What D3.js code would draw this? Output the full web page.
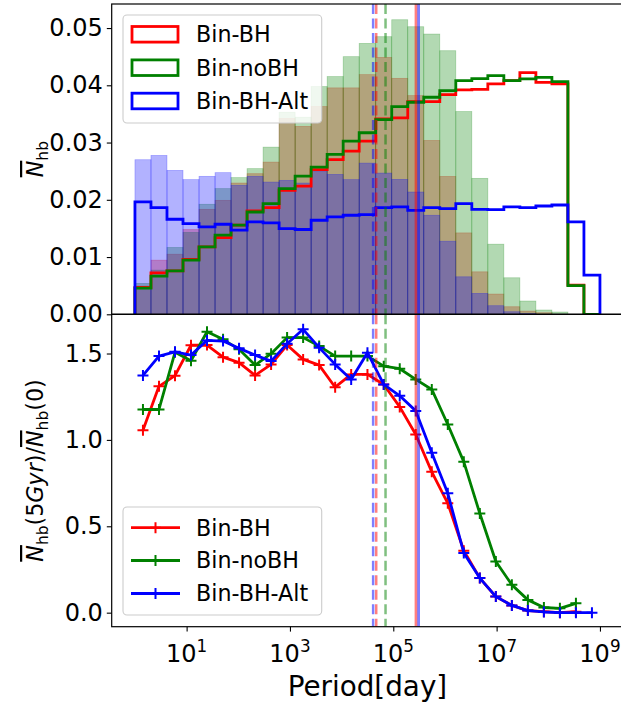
<!DOCTYPE html>
<html>
<head>
<meta charset="utf-8">
<script src="https://cdn.jsdelivr.net/npm/d3@7"></script>
<style>
  body { margin: 0; background: #fff; }
  text { font-family: "DejaVu Sans", sans-serif; fill: #000; }
</style>
</head>
<body>
<div id="chart"></div>
<script>
// log10(period/day) bin edges of the histograms
const logEdges = [0, 0.31, 0.62, 0.93, 1.24, 1.55, 1.86, 2.17, 2.48, 2.79, 3.10, 3.41, 3.72, 4.03, 4.34,
                  4.66, 4.97, 5.28, 5.59, 5.90, 6.21, 6.52, 6.83, 7.14, 7.45, 7.76, 8.07, 8.38, 8.69, 9.0];

const models = ["Bin-BH", "Bin-noBH", "Bin-BH-Alt"];
const colors = ["#ff0000", "#008000", "#0000ff"];

// step histograms (top panel, lines)
const stepBH   = [0.0047, 0.00725, 0.0076, 0.00958, 0.01178, 0.01341, 0.01556, 0.01805, 0.01864, 0.02166,
                  0.0224, 0.02526, 0.027, 0.0285, 0.03024, 0.03411, 0.03432, 0.03716, 0.03716, 0.03838,
                  0.0392, 0.0393, 0.04024, 0.04082, 0.0422, 0.04052, 0.04024, 0.0051, 0];
const stepNoBH = [0.00458, 0.00667, 0.0076, 0.00946, 0.01178, 0.01382, 0.01556, 0.01787, 0.01934, 0.02195,
                  0.02415, 0.02571, 0.02793, 0.03024, 0.03171, 0.03402, 0.03629, 0.03704, 0.03791, 0.03908,
                  0.04082, 0.04117, 0.04169, 0.04082, 0.04111, 0.04139, 0.04064, 0.0050, 0];
const stepAlt  = [0.01962, 0.01864, 0.0166, 0.01585, 0.01526, 0.01573, 0.01469, 0.01613, 0.01596, 0.01498,
                  0.01481, 0.01643, 0.017, 0.0173, 0.01742, 0.01864, 0.01875, 0.01817, 0.01864, 0.01847,
                  0.01934, 0.01834, 0.01829, 0.01875, 0.01864, 0.01892, 0.01909, 0.01613, 0.00685];

// filled histograms (top panel, translucent bars)
const fillBH   = [0.00493, 0.00946, 0.0105, 0.01481, 0.01834, 0.01991, 0.02293, 0.02456, 0.02659, 0.0342,
                  0.03283, 0.03629, 0.03955, 0.03955, 0.04186, 0.04488, 0.04122, 0.0382, 0.03037, 0.02409,
                  0.01422, 0.00742, 0.00354, 0.00132, 0.00057, 0.00028, 0, 0, 0];
const fillNoBH = [0.0054, 0.00772, 0.01167, 0.01429, 0.01922, 0.02195, 0.02387, 0.02544, 0.0292, 0.0353,
                  0.03443, 0.03977, 0.04152, 0.045, 0.04732, 0.04849, 0.05145, 0.05023, 0.04895, 0.04604,
                  0.03542, 0.02375, 0.01225, 0.00638, 0.00232, 0.00075, 0.0004, 0, 0];
const fillAlt  = [0.027, 0.02775, 0.02514, 0.02352, 0.0241, 0.02474, 0.02253, 0.0241, 0.0231, 0.0234,
                  0.02293, 0.02502, 0.02444, 0.02352, 0.02641, 0.02467, 0.02357, 0.02136, 0.0173, 0.01277,
                  0.00655, 0.00366, 0.0015, 0.00045, 0.00017, 0, 0, 0, 0];

// ratio N(5Gyr)/N(0) per bin (bottom panel)
const ratioBH   = [1.056, 1.31, 1.372, 1.548, 1.549, 1.479, 1.447, 1.373, 1.437, 1.549, 1.466, 1.433, 1.305, 1.379,
                   1.379, 1.321, 1.191, 1.031, 0.815, 0.633, 0.358, 0.2, 0.093, 0.042, 0.012, 0.006, 0.0, 0.006, null];
const ratioNoBH = [1.176, 1.176, 1.507, 1.458, 1.626, 1.582, 1.524, 1.433, 1.499, 1.592, 1.592, 1.543, 1.485, 1.485,
                   1.485, 1.427, 1.412, 1.35, 1.292, 1.089, 0.873, 0.574, 0.296, 0.161, 0.074, 0.03, 0.025, 0.054, null];
const ratioAlt  = [1.373, 1.485, 1.51, 1.491, 1.576, 1.572, 1.53, 1.491, 1.456, 1.557, 1.64, 1.534, 1.437, 1.35,
                   1.505, 1.321, 1.255, 1.168, 0.925, 0.691, 0.346, 0.2, 0.093, 0.042, 0.012, 0.004, 0.0, 0.0, 0.0];

// vertical reference lines, log10(period)
const dashedLogP = [4.67, 4.85, 4.61];   // BH, noBH, Alt
const solidLogP  = [5.44, 5.49];         // BH, Alt

const xTickExp = [1, 3, 5, 7, 9];
const yTopTicks = [0.00, 0.01, 0.02, 0.03, 0.04, 0.05];
const yBotTicks = [0.0, 0.5, 1.0, 1.5];

const width = 621, height = 706;
const left = 111.7, right = 623.2;
const topY0 = 4, midY = 314.3, botY1 = 626.7;
const fs = 22.2, tfs = 24;

const svg = d3.select("#chart").append("svg")
  .attr("width", width).attr("height", height);

const x = d3.scaleLog().domain([Math.pow(10, -0.45), Math.pow(10, 9.45)]).range([left, right]);
const yTop = d3.scaleLinear().domain([0, 0.0542]).range([midY, topY0]);
const yBot = d3.scaleLinear().domain([-0.0812, 1.727]).range([botY1, midY]);
const xe = e => x(Math.pow(10, e));

const defs = svg.append("defs");
defs.append("clipPath").attr("id", "clipTop").append("rect")
  .attr("x", left).attr("y", topY0).attr("width", right - left).attr("height", midY - topY0);
defs.append("clipPath").attr("id", "clipBot").append("rect")
  .attr("x", left).attr("y", midY).attr("width", right - left).attr("height", botY1 - midY);

// ---------- top panel ----------
const gTop = svg.append("g").attr("clip-path", "url(#clipTop)");
const fills = [fillBH, fillNoBH, fillAlt];
fills.forEach((vals, k) => {
  gTop.append("g").selectAll("rect")
    .data(vals.map((v, i) => ({v, i})).filter(d => d.v > 0))
    .join("rect")
      .attr("x", d => xe(logEdges[d.i]))
      .attr("width", d => xe(logEdges[d.i + 1]) - xe(logEdges[d.i]))
      .attr("y", d => yTop(d.v))
      .attr("height", d => yTop(0) - yTop(d.v))
      .attr("fill", colors[k]).attr("fill-opacity", 0.3)
      .attr("stroke", colors[k]).attr("stroke-opacity", 0.3).attr("stroke-width", 0.7);
});

const steps = [stepBH, stepNoBH, stepAlt];
const stepLine = d3.line().x(d => xe(d[0])).y(d => yTop(d[1]));
steps.forEach((vals, k) => {
  const pts = [[logEdges[0], 0]];
  vals.forEach((v, i) => { pts.push([logEdges[i], v]); pts.push([logEdges[i + 1], v]); });
  pts.push([logEdges[logEdges.length - 1], 0]);
  gTop.append("path").attr("d", stepLine(pts))
    .attr("fill", "none").attr("stroke", colors[k]).attr("stroke-width", 2.8)
    .attr("stroke-linejoin", "miter");
});

// ---------- bottom panel ----------
const gBot = svg.append("g").attr("clip-path", "url(#clipBot)");
const ratios = [ratioBH, ratioNoBH, ratioAlt];
const centers = logEdges.slice(0, -1).map((e, i) => (e + logEdges[i + 1]) / 2);
const rline = d3.line().defined(d => d[1] !== null).x(d => xe(d[0])).y(d => yBot(d[1]));
ratios.forEach((vals, k) => {
  const pts = vals.map((v, i) => [centers[i], v]);
  gBot.append("path").attr("d", rline(pts))
    .attr("fill", "none").attr("stroke", colors[k]).attr("stroke-width", 2.8)
    .attr("stroke-linejoin", "round");
  gBot.append("g").selectAll("path")
    .data(pts.filter(d => d[1] !== null))
    .join("path")
      .attr("d", d => { const cx = xe(d[0]), cy = yBot(d[1]), r = 5.5;
        return `M${cx - r},${cy}H${cx + r}M${cx},${cy - r}V${cy + r}`; })
      .attr("stroke", colors[k]).attr("stroke-width", 2).attr("fill", "none");
});

// ---------- vertical lines ----------
[[gTop, topY0, midY], [gBot, midY, botY1]].forEach(([g, y0, y1]) => {
  dashedLogP.forEach((e, k) => {
    g.append("line").attr("x1", xe(e)).attr("x2", xe(e)).attr("y1", y0).attr("y2", y1)
      .attr("stroke", colors[k]).attr("stroke-opacity", 0.5).attr("stroke-width", 2.5)
      .attr("stroke-dasharray", "10,4.5");
  });
  solidLogP.forEach((e, k) => {
    g.append("line").attr("x1", xe(e)).attr("x2", xe(e)).attr("y1", y0).attr("y2", y1)
      .attr("stroke", k === 0 ? colors[0] : colors[2]).attr("stroke-opacity", 0.5).attr("stroke-width", 2.8);
  });
});

// ---------- axes ----------
const yAxisTop = d3.axisLeft(yTop).tickValues(yTopTicks).tickFormat(d3.format(".2f")).tickSize(4.9).tickPadding(4);
const yAxisBot = d3.axisLeft(yBot).tickValues(yBotTicks).tickFormat(d3.format(".1f")).tickSize(4.9).tickPadding(4);
const xAxisBot = d3.axisBottom(x).tickValues(xTickExp.map(e => Math.pow(10, e))).tickFormat("").tickSize(4.9);

function styleAxis(g) {
  g.select(".domain").remove();
  g.selectAll(".tick line").attr("stroke", "#000").attr("stroke-width", 1.1);
  g.selectAll(".tick text").attr("font-size", tfs).attr("font-family", "DejaVu Sans");
}
svg.append("g").attr("transform", `translate(${left},0)`).call(yAxisTop).call(styleAxis);
svg.append("g").attr("transform", `translate(${left},0)`).call(yAxisBot).call(styleAxis);
svg.append("g").attr("transform", `translate(0,${botY1})`).call(xAxisBot).call(styleAxis);

// x tick labels 10^n
svg.append("g").selectAll("text")
  .data(xTickExp)
  .join("text")
    .attr("x", d => xe(d)).attr("y", 662)
    .attr("text-anchor", "middle").attr("font-size", tfs)
    .each(function(d) {
      const t = d3.select(this);
      t.append("tspan").text("10");
      t.append("tspan").attr("font-size", tfs * 0.7).attr("dy", -10).text(d);
    });

// frames
const frame = svg.append("g").attr("fill", "none").attr("stroke", "#000").attr("stroke-width", 1.2);
frame.append("rect").attr("x", left).attr("y", topY0).attr("width", right - left).attr("height", midY - topY0);
frame.append("rect").attr("x", left).attr("y", midY).attr("width", right - left).attr("height", botY1 - midY);

// axis labels
svg.append("text").attr("x", (left + right) / 2).attr("y", 696)
  .attr("text-anchor", "middle").attr("font-size", 27.8).text("Period[day]");

// N-bar with "hb" subscript; returns the baseline offset still applied
function nbar(t, size, dyIn) {
  t.append("tspan").attr("font-style", "italic").attr("dy", dyIn || 0)
    .style("text-decoration", "overline").text("N");
  t.append("tspan").attr("font-size", size * 0.7).attr("dy", size * 0.22).text("hb");
  return -size * 0.22;
}
const ylTop = svg.append("text")
  .attr("transform", `translate(43,${(topY0 + midY) / 2}) rotate(-90)`)
  .attr("text-anchor", "middle").attr("font-size", fs);
nbar(ylTop, fs);

const ylBot = svg.append("text")
  .attr("transform", `translate(43,${(midY + botY1) / 2}) rotate(-90)`)
  .attr("text-anchor", "middle").attr("font-size", fs);
let back = nbar(ylBot, fs);
ylBot.append("tspan").attr("dy", back).text("(5");
ylBot.append("tspan").attr("font-style", "italic").text("Gyr");
ylBot.append("tspan").text(")/");
back = nbar(ylBot, fs);
ylBot.append("tspan").attr("dy", back).text("(0)");

// ---------- legends ----------
function legendBox(y0, y1) {
  svg.append("rect").attr("x", 123).attr("y", y0).attr("width", 198.7).attr("height", y1 - y0)
    .attr("rx", 4).attr("fill", "#fff").attr("fill-opacity", 0.8)
    .attr("stroke", "#cccccc").attr("stroke-width", 1.1);
}
legendBox(15, 123);
const rowsTop = [34.3, 67.7, 101];
models.forEach((m, k) => {
  svg.append("rect").attr("x", 132).attr("y", rowsTop[k] - 7.8).attr("width", 46).attr("height", 15.6)
    .attr("fill", "none").attr("stroke", colors[k]).attr("stroke-width", 2.8);
  svg.append("text").attr("x", 196).attr("y", rowsTop[k]).attr("dy", "0.36em")
    .attr("font-size", fs).text(m);
});

legendBox(507, 615);
const rowsBot = [527.7, 560.5, 593.5];
models.forEach((m, k) => {
  const cy = rowsBot[k];
  svg.append("line").attr("x1", 131).attr("x2", 180).attr("y1", cy).attr("y2", cy)
    .attr("stroke", colors[k]).attr("stroke-width", 2.8);
  svg.append("path").attr("d", `M150,${cy}H161M155.5,${cy - 5.5}V${cy + 5.5}`)
    .attr("stroke", colors[k]).attr("stroke-width", 2);
  svg.append("text").attr("x", 196).attr("y", cy).attr("dy", "0.36em")
    .attr("font-size", fs).text(m);
});
</script>
</body>
</html>
